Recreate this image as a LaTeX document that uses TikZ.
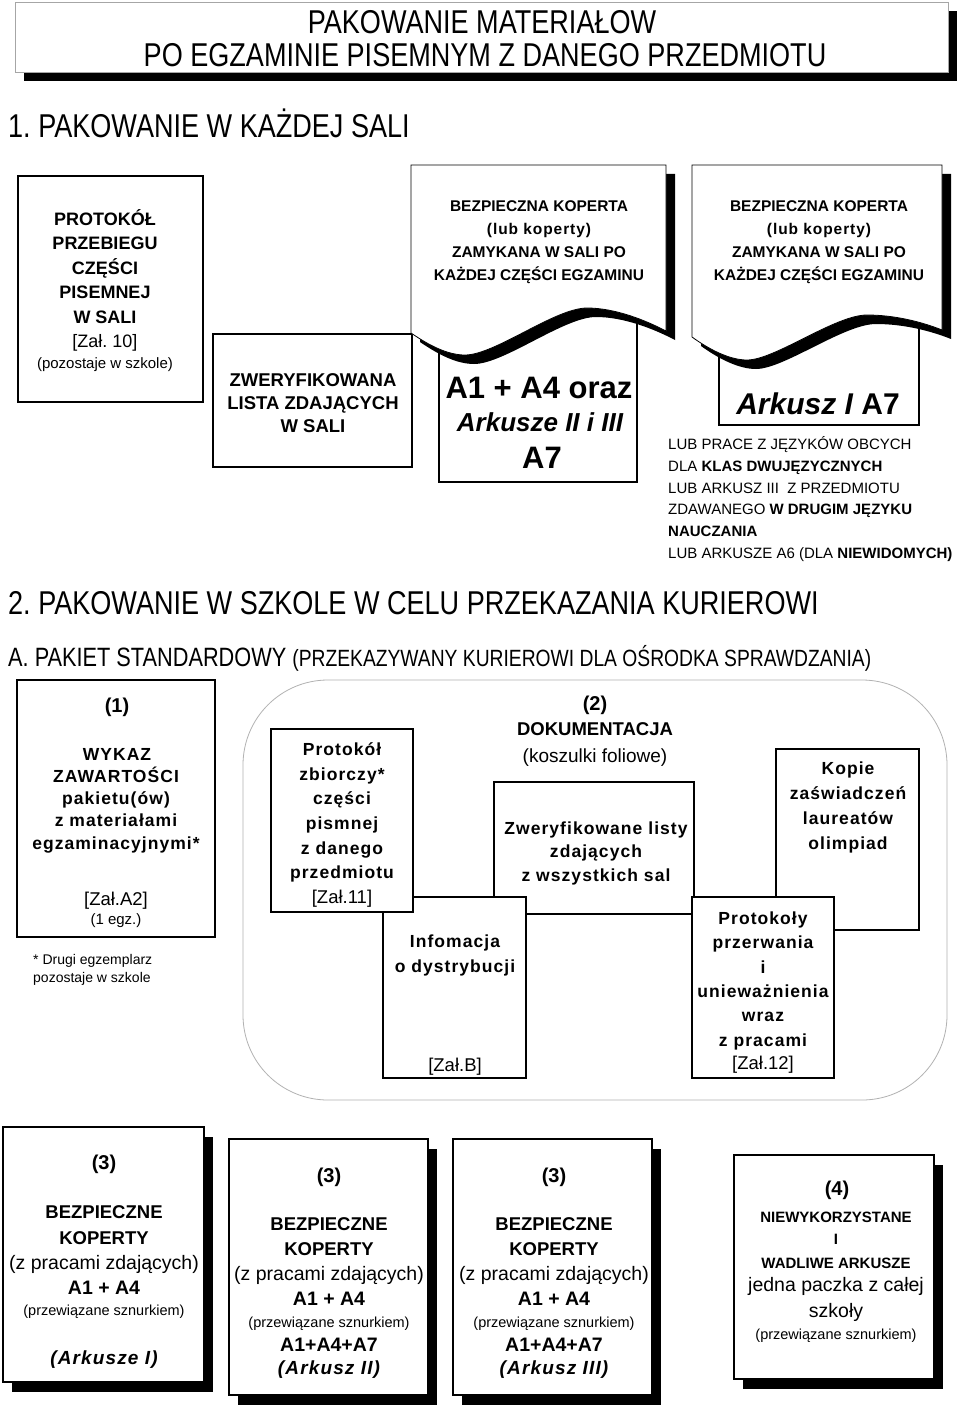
\documentclass[tikz,border=0pt]{standalone}
\usepackage{fontspec}
\setmainfont{Liberation Sans}
\newfontfamily\nar[FakeStretch=0.82]{Liberation Sans}
\newfontfamily\spc[LetterSpace=6]{Liberation Sans}
\newcommand\fz[1]{\fontsize{#1}{#1}\selectfont}
\usetikzlibrary{shadows}
\frenchspacing
\begin{document}
\begin{tikzpicture}[x=1pt,y=-1pt,
  t/.style={anchor=mid, inner sep=0pt, yshift=-3.5pt},
  tl/.style={anchor=mid west, inner sep=0pt, yshift=-3.5pt},
  hd/.style={anchor=mid west, inner sep=0pt, yshift=-8pt},
  bx/.style={draw=black, line width=1.4pt, fill=white, inner sep=0pt},
  ibx/.style={draw=black, line width=1.1pt, fill=white, inner sep=0pt},
  shd/.style={drop shadow={shadow xshift=9pt, shadow yshift=-10pt, fill=black, opacity=1}},
  bs/.style={font=\bfseries\fz{18}},
  mb/.style={font=\spc\bfseries\fz{17.5}},
  mr/.style={font=\fz{18.5}},
  eb/.style={font=\bfseries\fz{15.5}},
  lr/.style={tl, font=\fz{15}},
]
\useasboundingbox (0,0) rectangle (960,1407);
\fill[white] (0,0) rectangle (960,1407);

% ---------- title ----------
\node[draw=gray!70, line width=0.8pt, fill=white, minimum width=933pt, minimum height=70pt,
      drop shadow={shadow xshift=9pt, shadow yshift=-9pt, fill=black, opacity=1}] (title) at (481.5,37) {};
\node[t, yshift=-5pt, font=\nar\fz{33}] (h1) at (482,22) {PAKOWANIE MATERIAŁOW};
\node[t, yshift=-5pt, font=\nar\fz{33}] (h2) at (485,55) {PO EGZAMINIE PISEMNYM Z DANEGO PRZEDMIOTU};

\node[hd, font=\nar\fz{33}] (s1) at (8,127) {1. PAKOWANIE W KAŻDEJ SALI};

% ---------- section 1 boxes ----------
\node[bx, minimum width=185pt, minimum height=226pt] (pbox) at (110.5,289) {};
\node[t, bs] (p1) at (105,219) {PROTOKÓŁ};
\node[t, bs] (p2) at (105,243) {PRZEBIEGU};
\node[t, bs] (p3) at (105,268) {CZĘŚCI};
\node[t, bs] (p4) at (105,292) {PISEMNEJ};
\node[t, bs] (p5) at (105,317) {W SALI};
\node[t, font=\fz{18}] (p6) at (105,341) {[Zał. 10]};
\node[t, font=\fz{15}] (p7) at (105,362) {(pozostaje w szkole)};

\node[bx, minimum width=199pt, minimum height=133pt] (zbox) at (312.5,400.5) {};
\node[t, font=\bfseries\fz{18.5}] (z1) at (313,380) {ZWERYFIKOWANA};
\node[t, font=\bfseries\fz{18.5}] (z2) at (313,403) {LISTA ZDAJĄCYCH};
\node[t, font=\bfseries\fz{18.5}] (z3) at (313,426) {W SALI};

% inner boxes behind envelopes
\node[ibx, minimum width=198pt, minimum height=182pt] (in1) at (538,391) {};
\node[ibx, minimum width=200pt, minimum height=125pt] (in2) at (819,362.5) {};

% envelope 1
\fill[black, shift={(9,9)}] (411,165) -- (666,165) -- (666,331)
  .. controls (645,320) and (615,308) .. (587,308)
  .. controls (555,308) and (495,355) .. (465,355)
  .. controls (448,355) and (430,346) .. (411,333) -- cycle;
\filldraw[fill=white, draw=black, line width=0.8pt] (411,165) -- (666,165) -- (666,331)
  .. controls (645,320) and (615,308) .. (587,308)
  .. controls (555,308) and (495,355) .. (465,355)
  .. controls (448,355) and (430,346) .. (411,333) -- cycle;
% envelope 2
\fill[black, shift={(9,9)}] (692,165) -- (942,165) -- (942,330)
  .. controls (922,322) and (895,315) .. (867,315)
  .. controls (835,315) and (775,360) .. (747,360)
  .. controls (730,360) and (710,350) .. (692,337) -- cycle;
\filldraw[fill=white, draw=black, line width=0.8pt] (692,165) -- (942,165) -- (942,330)
  .. controls (922,322) and (895,315) .. (867,315)
  .. controls (835,315) and (775,360) .. (747,360)
  .. controls (730,360) and (710,350) .. (692,337) -- cycle;

\node[t, eb] (e1a) at (539,205) {BEZPIECZNA KOPERTA};
\node[t, font=\spc\bfseries\fz{15.5}] (e1b) at (539,228) {(lub koperty)};
\node[t, eb] (e1c) at (539,251) {ZAMYKANA W SALI PO};
\node[t, eb] (e1d) at (539,274) {KAŻDEJ CZĘŚCI EGZAMINU};
\node[t, eb] (e2a) at (819,205) {BEZPIECZNA KOPERTA};
\node[t, font=\spc\bfseries\fz{15.5}] (e2b) at (819,228) {(lub koperty)};
\node[t, eb] (e2c) at (819,251) {ZAMYKANA W SALI PO};
\node[t, eb] (e2d) at (819,274) {KAŻDEJ CZĘŚCI EGZAMINU};

\node[t, yshift=-3pt, font=\bfseries\fz{31}] (a1) at (539,389) {A1 + A4 oraz};
\node[t, yshift=-2pt, font=\bfseries\itshape\fz{26}] (a2) at (540,423) {Arkusze II i III};
\node[t, yshift=-3pt, font=\bfseries\fz{31}] (a3) at (542,459) {A7};
\node[t, yshift=-3pt, font=\bfseries\fz{30}] (b1) at (818,405) {{\itshape Arkusz I} A7};

\node[lr] (l1) at (668,443) {LUB PRACE Z JĘZYKÓW OBCYCH};
\node[lr] (l2) at (668,465) {DLA \textbf{KLAS DWUJĘZYCZNYCH}};
\node[lr] (l3) at (668,487) {LUB ARKUSZ III\ \ Z PRZEDMIOTU};
\node[lr] (l4) at (668,508) {ZDAWANEGO \textbf{W DRUGIM JĘZYKU}};
\node[lr] (l5) at (668,530) {\textbf{NAUCZANIA}};
\node[lr] (l6) at (668,552) {LUB ARKUSZE A6 (DLA \textbf{NIEWIDOMYCH)}};

% ---------- section 2 ----------
\node[hd, font=\nar\fz{33}] (s2) at (8,604) {2. PAKOWANIE W SZKOLE W CELU PRZEKAZANIA KURIEROWI};
\node[hd, yshift=1.5pt, font=\nar\fz{26.5}] (s2a) at (8,657) {A. PAKIET STANDARDOWY {\fz{23.5}(PRZEKAZYWANY KURIEROWI DLA OŚRODKA SPRAWDZANIA)}};

% box (1)
\node[bx, minimum width=198pt, minimum height=257pt] (w) at (116,808.5) {};
\node[t, font=\bfseries\fz{20}] (w0) at (117,706) {(1)};
\node[t, mb] (w1) at (117,754) {WYKAZ};
\node[t, mb] (w2) at (116,776) {ZAWARTOŚCI};
\node[t, mb] (w3) at (116,798) {pakietu(ów)};
\node[t, mb] (w4) at (116,820) {z materiałami};
\node[t, mb] (w5) at (116,843) {egzaminacyjnymi*};
\node[t, font=\fz{18.5}] (w6) at (116,899) {[Zał.A2]};
\node[t, font=\fz{15}] (w7) at (116,918) {(1 egz.)};
\node[tl, font=\fz{14}] (f1) at (33,958) {* Drugi egzemplarz};
\node[tl, font=\fz{14}] (f2) at (33,976) {pozostaje w szkole};

% container (2)
\node[draw=gray!60, line width=0.8pt, rounded corners=85pt, minimum width=704pt, minimum height=420pt] (cont) at (595,890) {};
\node[t, font=\bfseries\fz{20}] (d0) at (595,704) {(2)};
\node[t, font=\bfseries\fz{18.5}] (d1) at (595,729) {DOKUMENTACJA};
\node[t, font=\fz{19}] (d2) at (595,756) {(koszulki foliowe)};

\node[bx, minimum width=200pt, minimum height=132pt] (zl) at (594,848) {};
\node[t, mb] (zl1) at (596,828) {Zweryfikowane listy};
\node[t, mb] (zl2) at (596,851) {zdających};
\node[t, mb] (zl3) at (596,875) {z wszystkich sal};

\node[bx, minimum width=143pt, minimum height=181pt] (inf) at (454.5,987.5) {};
\node[t, mb] (inf1) at (455,941) {Infomacja};
\node[t, mb] (inf2) at (455,966) {o dystrybucji};
\node[t, mr] (inf3) at (455,1065) {[Zał.B]};

\node[bx, minimum width=142pt, minimum height=183pt] (pz) at (342,820.5) {};
\node[t, mb] (pz1) at (342,749) {Protokół};
\node[t, mb] (pz2) at (342,774) {zbiorczy*};
\node[t, mb] (pz3) at (342,798) {części};
\node[t, mb] (pz4) at (342,823) {pismnej};
\node[t, mb] (pz5) at (342,848) {z danego};
\node[t, mb] (pz6) at (342,872) {przedmiotu};
\node[t, mr] (pz7) at (342,897) {[Zał.11]};

\node[bx, minimum width=143pt, minimum height=181pt] (kp) at (847.5,839.5) {};
\node[t, mb] (kp1) at (848,768) {Kopie};
\node[t, mb] (kp2) at (848,793) {zaświadczeń};
\node[t, mb] (kp3) at (848,818) {laureatów};
\node[t, mb] (kp4) at (848,843) {olimpiad};

\node[bx, minimum width=142pt, minimum height=181pt] (pp) at (763,987.5) {};
\node[t, mb] (pp1) at (763,918) {Protokoły};
\node[t, mb] (pp2) at (763,942) {przerwania};
\node[t, mb] (pp3) at (763,967) {i};
\node[t, mb] (pp4) at (763,991) {unieważnienia};
\node[t, mb] (pp5) at (763,1015) {wraz};
\node[t, mb] (pp6) at (763,1040) {z pracami};
\node[t, mr] (pp7) at (763,1063) {[Zał.12]};

% ---------- bottom boxes ----------
\node[bx, shd, minimum width=201pt, minimum height=255pt] (k1) at (103.5,1254.5) {};
\node[t, font=\bfseries\fz{20}] (k1a) at (104,1163) {(3)};
\node[t, font=\bfseries\fz{18.5}] (k1b) at (104,1212) {BEZPIECZNE};
\node[t, font=\bfseries\fz{18.5}] (k1c) at (104,1238) {KOPERTY};
\node[t, font=\fz{19.5}] (k1d) at (104,1263) {(z pracami zdających)};
\node[t, font=\bfseries\fz{19.5}] (k1e) at (104,1288) {A1 + A4};
\node[t, font=\fz{14.5}] (k1f) at (104,1309) {(przewiązane sznurkiem)};
\node[t, font=\spc\bfseries\itshape\fz{19}] (k1g) at (104,1358) {(Arkusze I)};

\node[bx, shd, minimum width=199pt, minimum height=256pt] (k2) at (328.5,1267) {};
\node[t, font=\bfseries\fz{20}] (k2a) at (329,1176) {(3)};
\node[t, font=\bfseries\fz{18.5}] (k2b) at (329,1224) {BEZPIECZNE};
\node[t, font=\bfseries\fz{18.5}] (k2c) at (329,1249) {KOPERTY};
\node[t, font=\fz{19.5}] (k2d) at (329,1274) {(z pracami zdających)};
\node[t, font=\bfseries\fz{19.5}] (k2e) at (329,1299) {A1 + A4};
\node[t, font=\fz{14.5}] (k2f) at (329,1321) {(przewiązane sznurkiem)};
\node[t, font=\bfseries\fz{19.5}] (k2g) at (329,1345) {A1+A4+A7};
\node[t, font=\spc\bfseries\itshape\fz{19}] (k2h) at (329,1368) {(Arkusz II)};

\node[bx, shd, minimum width=199pt, minimum height=256pt] (k3) at (552.5,1267) {};
\node[t, font=\bfseries\fz{20}] (k3a) at (554,1176) {(3)};
\node[t, font=\bfseries\fz{18.5}] (k3b) at (554,1224) {BEZPIECZNE};
\node[t, font=\bfseries\fz{18.5}] (k3c) at (554,1249) {KOPERTY};
\node[t, font=\fz{19.5}] (k3d) at (554,1274) {(z pracami zdających)};
\node[t, font=\bfseries\fz{19.5}] (k3e) at (554,1299) {A1 + A4};
\node[t, font=\fz{14.5}] (k3f) at (554,1321) {(przewiązane sznurkiem)};
\node[t, font=\bfseries\fz{19.5}] (k3g) at (554,1345) {A1+A4+A7};
\node[t, font=\spc\bfseries\itshape\fz{19}] (k3h) at (554,1368) {(Arkusz III)};

\node[bx, shd, minimum width=200pt, minimum height=224pt] (k4) at (834,1267) {};
\node[t, font=\bfseries\fz{20}] (k4a) at (837,1189) {(4)};
\node[t, font=\bfseries\fz{15}] (k4b) at (836,1216) {NIEWYKORZYSTANE};
\node[t, font=\bfseries\fz{15}] (k4c) at (836,1238) {I};
\node[t, font=\bfseries\fz{15}] (k4d) at (836,1262) {WADLIWE ARKUSZE};
\node[t, font=\fz{19.5}] (k4e) at (836,1285) {jedna paczka z całej};
\node[t, font=\fz{19.5}] (k4f) at (836,1311) {szkoły};
\node[t, font=\fz{14.5}] (k4g) at (836,1333) {(przewiązane sznurkiem)};
\end{tikzpicture}
\end{document}
